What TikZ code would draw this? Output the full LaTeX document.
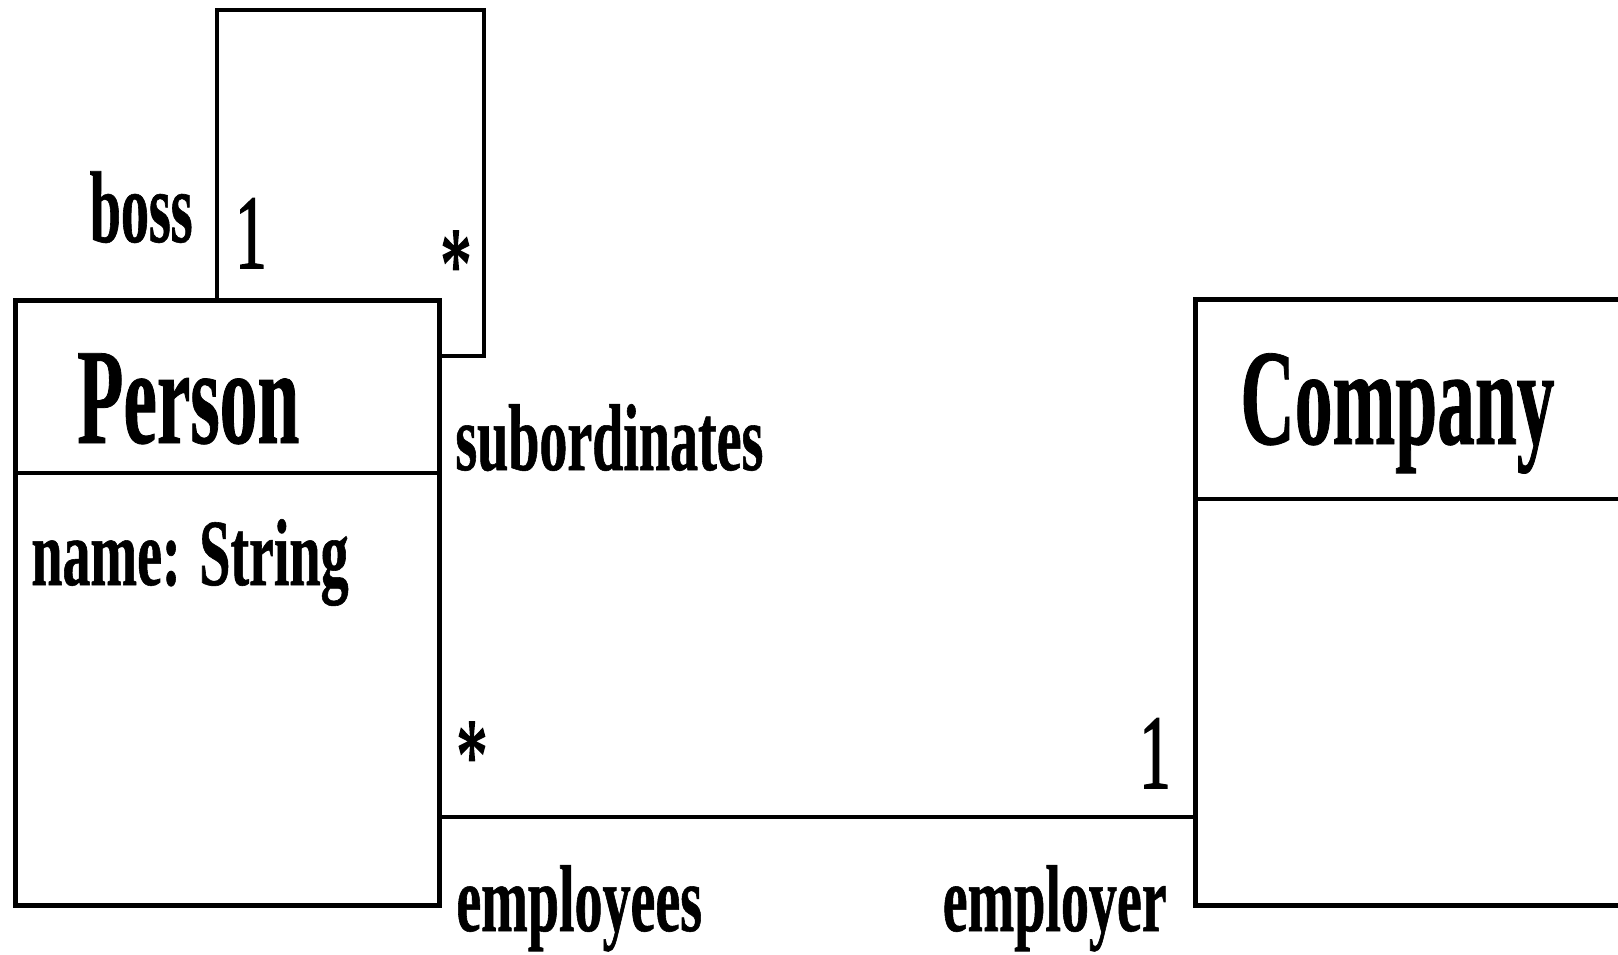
\documentclass[tikz,border=0pt]{standalone}
\usepackage{fontspec}
\setmainfont{Liberation Serif}
\newfontfamily\titlefont{Liberation Serif}[FakeStretch=0.55,FakeBold=0.6]
\newfontfamily\labelfont{Liberation Serif}[FakeStretch=0.59,FakeBold=0.6]
\newfontfamily\multfont{Liberation Serif}[FakeStretch=0.59,FakeBold=1.5]

\begin{document}
\begin{tikzpicture}[x=0.1mm,y=-0.1mm,line width=1.35pt,
	box/.style={draw,inner sep=0,anchor=north west},
	title/.style={anchor=base west,inner sep=0,font=\titlefont\bfseries\fontsize{39}{39}\selectfont},
	role/.style={inner sep=0,font=\labelfont\bfseries\fontsize{27}{27}\selectfont},
	mult/.style={inner sep=0,font=\multfont\fontsize{30}{30}\selectfont}]
	\useasboundingbox (0,0) rectangle (1618,954);
	\clip (0,0) rectangle (1618,954);
	% classes
	\node[box,minimum width=42.4mm,minimum height=60.5mm] at (13,298) (person) {};
	\node[box,minimum width=50mm,minimum height=60.6mm] at (1193,297) (company) {};
	\coordinate (pdiv) at (13,473);
	\coordinate (cdiv) at (1193,499);
	\draw (pdiv) -- (pdiv -| person.east);
	\draw (cdiv) -- (cdiv -| company.east);
	\node[title] at (75,443) (pname) {Person};
	\node[title] at (1238,444) (cname) {Company};
	\node[role,anchor=base west] at (29,585) (pattr) {name: String};
	% self association
	\coordinate (bossend) at (217,298);
	\coordinate (loopcorner) at (484,10);
	\coordinate (subend) at (437,356);
	\draw (bossend) |- (loopcorner) |- (subend);
	\node[role,anchor=base east,font=\titlefont\bfseries\fontsize{29}{29}\selectfont] at (195,242) (boss) {boss};
	\node[mult,anchor=base west] at (233,268) (bossm) {1};
	\node[mult,anchor=base west] at (438,300) (subm) {*};
	\node[role,anchor=base west] at (453,470) (sub) {subordinates};
	% employment
	\coordinate (empl) at (437,817);
	\coordinate (emplr) at (1193,817);
	\draw (empl) -- (emplr);
	\node[mult,anchor=base west] at (454,791) (emplm) {*};
	\node[mult,anchor=base east] at (1173,788) (emplrm) {1};
	\node[role,anchor=base west] at (454,931) (emp) {employees};
	\node[role,anchor=base east] at (1169,931) (empr) {employer};
\end{tikzpicture}
\end{document}
